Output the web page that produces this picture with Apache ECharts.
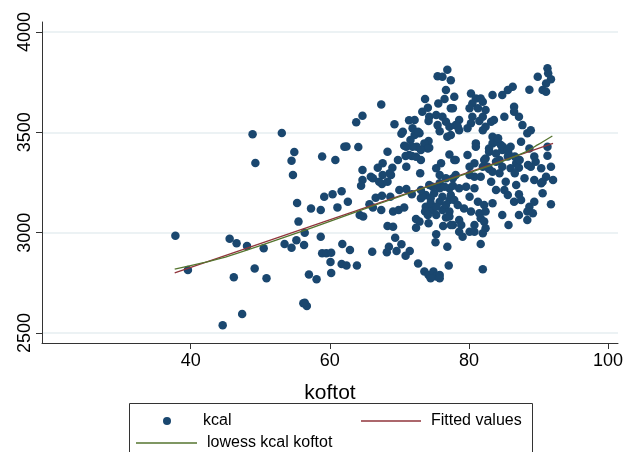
<!DOCTYPE html>
<html>
<head>
<meta charset="utf-8">
<script src="https://cdn.jsdelivr.net/npm/echarts@6/dist/echarts.min.js"></script>
<style>html,body{margin:0;padding:0;background:#fff;}#chart{width:634px;height:452px;}</style>
</head>
<body>
<div id="chart"></div>
<script>
// ---- data ----
const xTicks = [40, 60, 80, 100];
const yTicks = [2500, 3000, 3500, 4000];
const xName = 'koftot';
const seriesNames = ['kcal', 'Fitted values', 'lowess kcal koftot'];

// scatter: [koftot, kcal]
const kcalPoints = [
[48.9,3490],[53.1,3497],[54.9,3402],[49.3,3347],[54.5,3359],[54.7,3287],[58.9,3380],[60.8,3362],[62.1,3428],[55.3,3148],[59.2,3179],[60.4,3191],[61.7,3206],[57.3,3121],[58.7,3113],[61.1,3126],
[37.8,2985],[39.6,2814],[45.6,2970],[46.6,2947],[48.1,2934],[50.5,2922],[46.2,2778],[49.2,2821],[50.9,2773],[47.4,2594],[44.6,2539],[55.5,3055],[56.4,3000],[53.5,2944],[54.5,2925],[55.2,2962],[56.3,2939],[58.7,2980],[61.8,2944],[58.9,2897],[59.5,2897],[60.2,2900],[60.1,2854],[61.7,2844],[57.0,2791],[58.1,2768],[60.2,2799],[56.4,2651],[56.7,2635],[56.2,2648],
[76.9,3812],[75.5,3780],[76.2,3777],[76.7,3711],[73.7,3666],[76.5,3666],[75.6,3644],[77.4,3620],[67.4,3639],[64.7,3583],[63.8,3550],[74.1,3623],[73.3,3603],[74.3,3578],[75.3,3586],[76.2,3578],[74.2,3556],[75.5,3536],[76.7,3553],[77.2,3528],[71.4,3560],[72.2,3561],[69.3,3540],[71.9,3520],[72.9,3495],[72.2,3487],[70.3,3493],[75.8,3506],[76.9,3478],[71.6,3462],[70.7,3433],[72.5,3428],[74.2,3457],[74.3,3423],[62.4,3430],[64.1,3427],[68.3,3403],[71.4,3387],[70.9,3382],[71.8,3382],[73.1,3362],[69.8,3362],[67.6,3346],[66.9,3324],[69.0,3324],[75.3,3321],[77.2,3390],[77.9,3362],[64.7,3312],
[91.3,3819],[91.4,3794],[89.9,3777],[91.8,3765],[91.1,3744],[90.6,3711],[91.1,3702],[88.7,3712],[86.3,3727],[85.6,3711],[84.8,3686],[83.4,3686],[77.4,3760],[77.9,3677],[80.3,3694],[81.0,3669],[81.7,3669],[80.5,3644],[82.0,3652],[81.3,3620],[80.1,3620],[77.7,3620],[82.4,3611],[82.0,3578],[80.5,3578],[80.3,3545],[81.5,3556],[83.2,3553],[83.6,3561],[85.1,3578],[86.5,3628],[86.5,3603],[87.2,3578],[87.7,3536],[88.9,3511],[88.4,3495],[87.5,3453],[78.1,3536],[78.6,3511],[77.4,3487],[79.8,3520],[82.0,3511],[82.4,3528],[81.0,3445],[81.0,3428],[83.4,3478],[83.4,3445],[84.1,3453],[84.6,3437],[82.9,3420],[84.8,3412],[86.0,3428],[85.7,3395],[88.7,3420],[91.3,3383],[79.8,3387],[78.1,3362],[80.8,3346],[82.4,3370],[83.9,3354],[86.8,3346],[89.6,3354],[82.0,3329],[84.8,3329],
[64.7,3262],[64.5,3234],[65.9,3279],[67.5,3243],[68.8,3287],[62.6,3154],[66.6,3174],[67.5,3184],[68.7,3179],[65.7,3141],[66.2,3125],[67.4,3113],[64.3,3088],[64.8,3080],[69.1,3105],[69.9,3113],[70.7,3125],[71.0,3218],[71.8,3191],[73.0,3296],[73.1,3171],[73.8,3188],[75.0,3196],[75.8,3246],[76.2,3179],[77.2,3221],[77.2,3163],[73.8,3129],[74.7,3113],[73.7,3105],[76.2,3113],[76.7,3075],[75.3,3088],[72.4,3068],[72.9,3055],[74.2,3047],[72.4,3025],[68.3,3033],[69.1,3030],[76.3,3033],[77.7,3038],[75.3,2992],[75.2,2952],[76.9,2930],[69.4,2975],[70.3,2942],[68.5,2930],[68.2,2902],[69.6,2909],[71.5,2909],[70.9,2885],[66.1,2905],[62.9,2914],[62.4,2836],[63.9,2836],[72.7,2846],[77.1,2836],[73.6,2806],[74.2,2789],[74.9,2806],[75.3,2781],[75.8,2789],[74.5,2773],[75.8,2773],
[73.3,3179],[74.5,3171],[75.8,3154],[76.7,3138],[77.4,3188],[75.8,3221],[76.5,3229],[74.3,3237],[73.1,3213],[74.5,3146],[75.3,3129],[74.1,3088],[77.2,3105],[77.7,3271],[76.7,3271],[75.8,3287],
[80.1,3329],[82.9,3317],[86.0,3321],[87.2,3324],[88.9,3329],[90.4,3321],[91.8,3329],[78.1,3287],[80.8,3279],[81.7,3279],[84.4,3296],[88.0,3271],[91.1,3279],[92.1,3262],[90.6,3254],[85.3,3254],[86.8,3237],[77.7,3234],[78.6,3221],[79.6,3229],[80.8,3221],[83.9,3213],[85.1,3213],[85.6,3188],[87.2,3191],[90.6,3196],[80.1,3179],[77.9,3163],[78.4,3138],[79.3,3121],[81.3,3154],[82.2,3138],[83.4,3146],[86.5,3154],[87.5,3163],[88.7,3129],[89.4,3154],[91.8,3141],[80.3,3105],[81.5,3097],[82.4,3105],[84.8,3088],[87.2,3088],[88.4,3105],[89.2,3097],[77.2,3080],[78.6,3063],[81.7,3072],[82.2,3055],[88.4,3063],[85.7,3038],[77.4,3038],[78.9,3038],[80.8,3038],[82.4,3022],[78.6,3005],[80.1,3005],[80.8,3005],[82.0,2997],[79.1,2980],[81.7,2944],[82.0,2818],
[78.6,3561],[78.4,3528],[91.3,3428],[89.4,3379],[85.6,3379],[86.6,3379],[87.3,3362],[84.4,3362],[88.5,3337],[86.6,3296],[83.4,3304],[82.7,3329],[82.2,3362],[80.1,3287],[83.2,3254],[89.4,3262],[90.4,3246],[84.2,3470],[84.9,3428],[85.6,3412],[82.9,3403],[83.9,3395],[70.5,3503],[72.7,3503],[73.6,3445],[74.1,3420],[71.9,3428],[71.0,3428],[72.4,3378],[73.1,3412],[71.0,3329],[68.6,3296],[67.6,3287],[66.2,3271],[67.1,3254],[68.3,3254],[76.0,3346],[70.0,3213],[74.8,3229]
];

// linear fit end points
const fittedPoints = [[37.7, 2800], [92.1, 3445]];

// lowess curve
const lowessPoints = [
[37.7,2818],[42,2852],[45,2878],[50,2935],[55,2995],[60,3056],[65,3118],[70,3180],[75,3240],[80,3298],[85,3358],[88,3400],[90,3440],[92,3482]
];

// ---- chart ----
const chart = echarts.init(document.getElementById('chart'), null, {renderer: 'canvas'});
const FONT = 'Liberation Sans, Arial, sans-serif';
const legendText = {fontSize: 16, color: '#000', fontFamily: FONT};

chart.setOption({
  animation: false,
  backgroundColor: '#fff',
  textStyle: {fontFamily: FONT},
  grid: {left: 42, right: 16, top: 22, bottom: 109, containLabel: false},
  xAxis: {
    type: 'value', min: 18.62, max: 101.44,
    name: xName, nameLocation: 'middle', nameGap: 40,
    nameTextStyle: {fontSize: 21, color: '#000', fontFamily: FONT},
    axisLine: {show: true, onZero: false, lineStyle: {color: '#333', width: 1}},
    axisTick: {show: true, length: 6, customValues: xTicks, lineStyle: {color: '#333'}},
    axisLabel: {customValues: xTicks, fontSize: 18, color: '#000', margin: 9, fontFamily: FONT,
                formatter: v => String(v)},
    splitLine: {show: false}
  },
  yAxis: {
    type: 'value', min: 2450, max: 4050,
    axisLine: {show: true, onZero: false, lineStyle: {color: '#333', width: 1}},
    axisTick: {show: true, length: 6, customValues: yTicks, lineStyle: {color: '#333'}},
    axisLabel: {customValues: yTicks, rotate: 90, fontSize: 18, color: '#000', margin: 8, fontFamily: FONT,
                formatter: v => String(v)},
    splitLine: {show: false}
  },
  legend: [
    {data: [{name: seriesNames[0], icon: 'circle'}], left: 163, top: 413, padding: 0, itemWidth: 8, itemHeight: 8,
     selectedMode: false, textStyle: Object.assign({padding: [0, 0, 0, 27]}, legendText)},
    {data: [{name: seriesNames[1], icon: 'rect'}], left: 361, top: 413, padding: 0, itemWidth: 60, itemHeight: 1.4,
     selectedMode: false, textStyle: Object.assign({padding: [0, 0, 0, 5]}, legendText)},
    {data: [{name: seriesNames[2], icon: 'rect'}], left: 136, top: 435, padding: 0, itemWidth: 61, itemHeight: 1.4,
     selectedMode: false, textStyle: Object.assign({padding: [0, 0, 0, 5]}, legendText)}
  ],
  graphic: [{
    type: 'rect', silent: true,
    shape: {x: 129.5, y: 403.5, width: 403, height: 70},
    style: {fill: 'none', stroke: '#333', lineWidth: 1}
  }],
  series: [
    {
      type: 'line', data: [], z: 0, silent: true,
      markLine: {
        z: 0, silent: true, symbol: ['none', 'none'], label: {show: false},
        lineStyle: {color: '#e6eef1', width: 1.5, type: 'solid'},
        emphasis: {disabled: true},
        data: yTicks.map(v => ({yAxis: v}))
      }
    },
    {
      name: seriesNames[0], type: 'scatter', data: kcalPoints, symbol: 'circle', symbolSize: 8.5,
      itemStyle: {color: '#1a476f', opacity: 1}, z: 2
    },
    {
      name: seriesNames[1], type: 'line', data: fittedPoints, symbol: 'none',
      lineStyle: {color: '#90353b', width: 1.3}, itemStyle: {color: '#90353b'}, z: 3
    },
    {
      name: seriesNames[2], type: 'line', data: lowessPoints, symbol: 'none', smooth: 0.3,
      lineStyle: {color: '#55752f', width: 1.3}, itemStyle: {color: '#55752f'}, z: 4
    }
  ]
});
</script>
</body>
</html>
